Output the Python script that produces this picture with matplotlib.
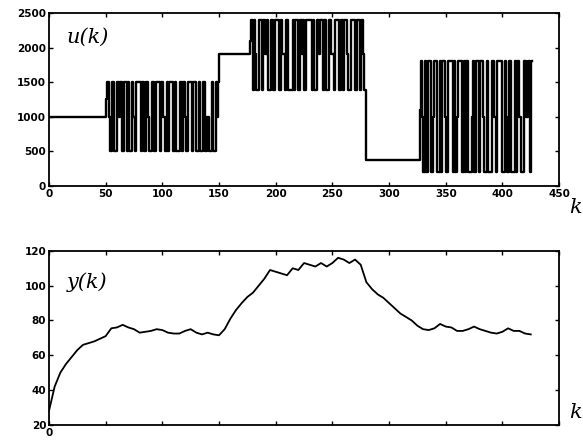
import numpy as np
import matplotlib
matplotlib.use('Agg')
import matplotlib.pyplot as plt

# u(k): piecewise constant input, run-length coded (level, duration in k)
seg_start = [0, 50, 150, 177, 280, 327]
u_runs = [
    [(1000, 50)],
    [(1250, 1), (1500, 2), (1000, 1), (500, 2), (1500, 1), (500, 3), (1500, 2), (1000, 1), (1500, 1), (500, 2),
     (1500, 3), (500, 1), (1500, 1), (500, 2), (1500, 1), (1000, 2), (500, 1), (1500, 4), (500, 1), (1500, 2),
     (500, 2), (1500, 1), (1000, 1), (500, 3), (1500, 2), (500, 1), (1500, 4), (500, 1), (1500, 2), (1000, 1),
     (500, 2), (1500, 1), (500, 1), (1500, 3), (500, 2), (1500, 1), (500, 4), (1500, 1), (500, 1), (1500, 2),
     (1000, 1), (500, 2), (1500, 3), (500, 1), (1500, 3), (500, 2), (1500, 1), (500, 3), (1500, 2), (500, 1),
     (1000, 2), (500, 3), (1500, 1), (500, 2), (1500, 1), (1000, 1), (1500, 1)],
    [(1900, 27)],
    [(2100, 1), (2400, 2), (1380, 1), (2400, 1), (1900, 1), (1380, 2), (2400, 3), (1380, 1), (2400, 2), (1900, 1),
     (2400, 1), (1380, 3), (2400, 2), (1380, 1), (2400, 4), (1380, 2), (2400, 1), (1900, 2), (1380, 1), (2400, 2),
     (1380, 4), (2400, 1), (1380, 1), (2400, 3), (1380, 1), (2400, 2), (1900, 1), (2400, 1), (1380, 2), (2400, 5),
     (1380, 1), (2400, 1), (1380, 2), (2400, 2), (1900, 1), (2400, 3), (1380, 1), (2400, 1), (1380, 3), (2400, 2),
     (1900, 2), (1380, 1), (2400, 4), (1380, 2), (2400, 1), (1380, 1), (2400, 3), (1900, 1), (1380, 2), (2400, 1),
     (2400, 3), (1380, 2), (2400, 2), (1380, 1), (2400, 2), (1900, 1), (1380, 2)],
    [(380, 47)],
    [(1100, 1), (1800, 1), (1000, 1), (200, 2), (1800, 1), (200, 1), (1800, 3), (200, 2), (1000, 1), (1800, 2),
     (200, 3), (1800, 1), (200, 1), (1800, 2), (1000, 1), (200, 2), (1800, 4), (200, 1), (1800, 1), (200, 2),
     (1000, 1), (1800, 3), (200, 2), (1800, 1), (200, 1), (1800, 2), (200, 3), (1000, 1), (1800, 1), (200, 2),
     (1800, 2), (200, 1), (1800, 3), (1000, 1), (200, 2), (1800, 1), (200, 4), (1800, 2), (1000, 1), (200, 1),
     (1800, 5), (200, 2), (1800, 1), (1000, 1), (200, 2), (1800, 2), (200, 3), (1800, 1), (200, 1), (1800, 2),
     (1000, 1), (200, 3), (1800, 2), (1000, 2), (1800, 1), (200, 1), (1800, 1)],
]

# y(k): output, read every 5 samples
y_k = list(range(0, 430, 5))
y_val = [28, 42, 50, 55, 59, 63, 66, 67, 68, 69.5,
         71, 75.5, 76, 77.5, 76, 75, 73, 73.5, 74, 75,
         74.5, 73, 72.5, 72.5, 74, 75, 73, 72, 73, 72,
         71.5, 75, 81, 86, 90, 93.5, 96, 100, 104, 109,
         108, 107, 106, 110, 109, 113, 112, 111, 113, 111,
         113, 116, 115, 113, 115, 112, 102, 98, 95, 93,
         90, 87, 84, 82, 80, 77, 75, 74.5, 75.5, 78,
         76.5, 76, 74, 74, 75, 76.5, 75, 74, 73, 72.5,
         73.5, 75.5, 74, 74, 72.5, 72]

# build step series
uk, uv = [], []
for s, runs in zip(seg_start, u_runs):
    t = s
    for lev, d in runs:
        uk.append(t)
        uv.append(lev)
        t += d
uk.append(t)
uv.append(uv[-1])

fig = plt.figure(figsize=(5.83, 4.44), dpi=100)
ax1 = fig.add_axes([0.084, 0.581, 0.875, 0.390])
ax2 = fig.add_axes([0.084, 0.043, 0.875, 0.392])

ax1.plot(uk, uv, color='black', lw=1.7, drawstyle='steps-post')
ax2.plot(y_k, y_val, color='black', lw=1.3)

tick_font = dict(family='DejaVu Sans', weight='bold', size=7.5)
for ax in (ax1, ax2):
    ax.set_xlim(0, 450)
    ax.set_xticks(np.arange(0, 451, 50))
    ax.tick_params(direction='in', top=True, right=True, length=3, width=1, pad=2)
    for sp in ax.spines.values():
        sp.set_linewidth(1.3)

ax1.set_ylim(0, 2500)
ax1.set_yticks(np.arange(0, 2501, 500))
ax1.set_xticklabels([str(v) for v in range(0, 451, 50)], fontdict=tick_font)
ax1.set_yticklabels([str(v) for v in range(0, 2501, 500)], fontdict=tick_font)

ax2.set_ylim(20, 120)
ax2.set_yticks(np.arange(20, 121, 20))
ax2.set_xticklabels(['0'] + [''] * 9, fontdict=tick_font)
ax2.set_yticklabels([str(v) for v in range(20, 121, 20)], fontdict=tick_font)

lab = dict(family='DejaVu Serif', style='italic', size=15)
ax1.text(0.035, 0.86, 'u(k)', transform=ax1.transAxes, ha='left', va='center', **lab)
ax2.text(0.035, 0.82, 'y(k)', transform=ax2.transAxes, ha='left', va='center', **lab)
fig.text(569 / 583, 1 - 207 / 444, 'k', ha='left', va='center', **lab)
fig.text(569 / 583, 1 - 412 / 444, 'k', ha='left', va='center', **lab)

fig.savefig('out.png', dpi=100)
